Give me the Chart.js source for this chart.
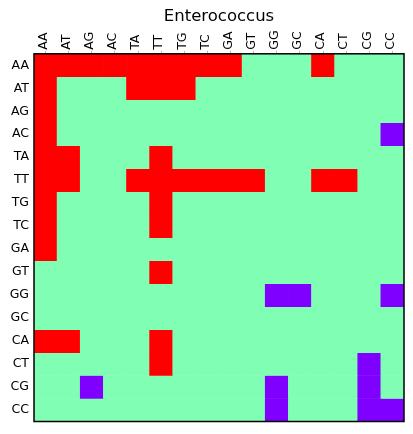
<!DOCTYPE html>
<html>
<head>
<meta charset="utf-8">
<script src="https://cdn.jsdelivr.net/npm/chart.js@4.4.1/dist/chart.umd.min.js"></script>
<style>
html,body{margin:0;padding:0;background:#fff;}
#wrap{width:413px;height:434px;}
</style>
</head>
<body>
<div id="wrap"><canvas id="c" width="413" height="434"></canvas></div>
<script>
const labels = ['AA','AT','AG','AC','TA','TT','TG','TC','GA','GT','GG','GC','CA','CT','CG','CC'];
// 1 = red, 0 = green, -1 = purple ; one row per y label
const rowAA = [1,1,1,1,1,1,1,1,1,0,0,0,1,0,0,0];
const rowAT = [1,0,0,0,1,1,1,0,0,0,0,0,0,0,0,0];
const rowAG = [1,0,0,0,0,0,0,0,0,0,0,0,0,0,0,0];
const rowAC = [1,0,0,0,0,0,0,0,0,0,0,0,0,0,0,-1];
const rowTA = [1,1,0,0,0,1,0,0,0,0,0,0,0,0,0,0];
const rowTT = [1,1,0,0,1,1,1,1,1,1,0,0,1,1,0,0];
const rowTG = [1,0,0,0,0,1,0,0,0,0,0,0,0,0,0,0];
const rowTC = [1,0,0,0,0,1,0,0,0,0,0,0,0,0,0,0];
const rowGA = [1,0,0,0,0,0,0,0,0,0,0,0,0,0,0,0];
const rowGT = [0,0,0,0,0,1,0,0,0,0,0,0,0,0,0,0];
const rowGG = [0,0,0,0,0,0,0,0,0,0,-1,-1,0,0,0,-1];
const rowGC = [0,0,0,0,0,0,0,0,0,0,0,0,0,0,0,0];
const rowCA = [1,1,0,0,0,1,0,0,0,0,0,0,0,0,0,0];
const rowCT = [0,0,0,0,0,1,0,0,0,0,0,0,0,0,-1,0];
const rowCG = [0,0,-1,0,0,0,0,0,0,0,-1,0,0,0,-1,0];
const rowCC = [0,0,0,0,0,0,0,0,0,0,-1,0,0,0,-1,-1];
const rows = [rowAA,rowAT,rowAG,rowAC,rowTA,rowTT,rowTG,rowTC,rowGA,rowGT,rowGG,rowGC,rowCA,rowCT,rowCG,rowCC];

const colorFor = v => v > 0 ? '#ff0000' : (v < 0 ? '#8000ff' : '#80ffb4');

const datasets = rows.map((row, r) => ({
  label: labels[r],
  data: row.map(() => [r - 0.5, r + 0.5]),
  backgroundColor: row.map(colorFor),
  borderWidth: 0,
  grouped: false,
  barPercentage: 1,
  categoryPercentage: 1
}));

const frame = {
  id: 'frame',
  afterDatasetsDraw(chart) {
    const a = chart.chartArea, ctx = chart.ctx;
    ctx.save();
    ctx.strokeStyle = '#000';
    ctx.lineWidth = 1.5;
    ctx.strokeRect(a.left, a.top, a.right - a.left, a.bottom - a.top);
    ctx.restore();
  }
};

new Chart(document.getElementById('c'), {
  type: 'bar',
  data: { labels: labels, datasets: datasets },
  plugins: [frame],
  options: {
    responsive: false,
    animation: false,
    layout: { padding: { left: 0, right: 9, top: 0, bottom: 10 } },
    plugins: {
      legend: { display: false },
      tooltip: { enabled: false },
      title: {
        display: true,
        fullSize: false,
        text: 'Enterococcus',
        color: '#000',
        font: { family: 'DejaVu Sans', size: 16.5, weight: 'normal' },
        padding: { top: 7, bottom: 4 }
      }
    },
    scales: {
      x: {
        type: 'category',
        position: 'top',
        offset: true,
        grid: { display: true, drawOnChartArea: false, offset: false, tickLength: 3, color: '#bbb' },
        border: { display: false },
        ticks: {
          color: '#000',
          font: { family: 'DejaVu Sans', size: 12.5 },
          minRotation: 90, maxRotation: 90,
          autoSkip: false,
          padding: 1,
          labelOffset: 13
        },
        afterFit(s) { s.height = 23; }
      },
      y: {
        type: 'linear',
        reverse: true,
        min: -0.5,
        max: 15.5,
        grid: { display: false, drawTicks: false, tickLength: 0 },
        border: { display: false },
        afterBuildTicks(s) { s.ticks = labels.map((_, i) => ({ value: i })); },
        ticks: {
          color: '#000',
          font: { family: 'DejaVu Sans', size: 12.5 },
          padding: 5,
          callback: v => labels[v]
        },
        afterFit(s) { s.width = 34; }
      }
    }
  }
});
</script>
</body>
</html>
